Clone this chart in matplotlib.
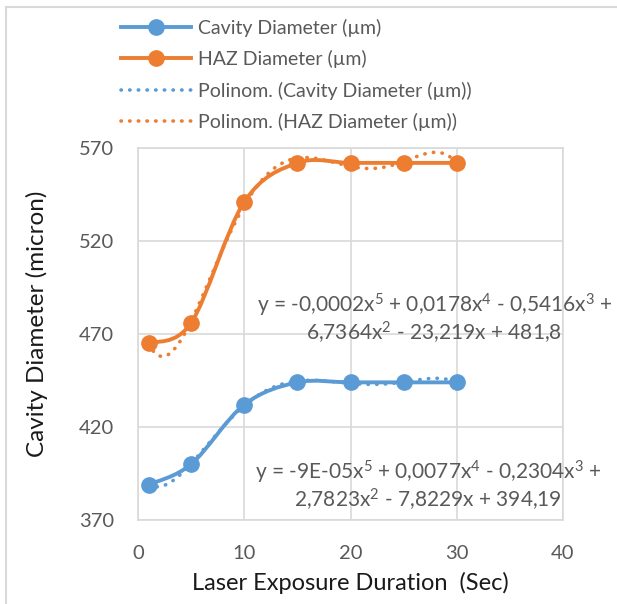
import numpy as np
import matplotlib
matplotlib.use("Agg")
import matplotlib.pyplot as plt
from matplotlib.path import Path
from matplotlib.patches import PathPatch
from matplotlib.lines import Line2D

plt.rcParams['font.family'] = ['Lato', 'DejaVu Sans']
plt.rcParams['mathtext.fontset'] = 'custom'
plt.rcParams['mathtext.rm'] = 'Lato'
plt.rcParams['mathtext.it'] = 'Lato'

# data
exposure = [1, 5, 10, 15, 20, 25, 30]
cavity = [389, 400, 432, 444, 444, 444, 444]
haz = [465, 476, 541, 562, 562, 562, 562]
series_names = ["Cavity Diameter (µm)", "HAZ Diameter (µm)"]
trend_names = ["Polinom. (Cavity Diameter (µm))", "Polinom. (HAZ Diameter (µm))"]
eq_haz = "y = -0,0002x$^{5}$ + 0,0178x$^{4}$ - 0,5416x$^{3}$ +\n6,7364x$^{2}$ - 23,219x + 481,8"
eq_cav = "y = -9E-05x$^{5}$ + 0,0077x$^{4}$ - 0,2304x$^{3}$ +\n2,7823x$^{2}$ - 7,8229x + 394,19"
xticks = [0, 10, 20, 30, 40]
yticks = [370, 420, 470, 520, 570]

blue = '#5B9BD5'
orange = '#ED7D31'
grey_txt = '#595959'
grid_c = '#D9D9D9'
dot = (0, (0.1, 2.3))

fig = plt.figure(figsize=(6.17, 6.04), dpi=100)
ax = fig.add_axes([138/617, 1-520/604, (563-138)/617, (520-148)/604])


def smooth_path(xs, ys):
    xs = np.asarray(xs, float); ys = np.asarray(ys, float)
    n = len(xs)
    verts = [(xs[0], ys[0])]
    codes = [Path.MOVETO]
    for i in range(n - 1):
        i0 = max(i - 1, 0); i3 = min(i + 2, n - 1)
        c1 = (xs[i] + (xs[i+1] - xs[i0]) / 6, ys[i] + (ys[i+1] - ys[i0]) / 6)
        c2 = (xs[i+1] - (xs[i3] - xs[i]) / 6, ys[i+1] - (ys[i3] - ys[i]) / 6)
        verts += [c1, c2, (xs[i+1], ys[i+1])]
        codes += [Path.CURVE4] * 3
    return Path(verts, codes)


for ys, c in [(cavity, blue), (haz, orange)]:
    ax.add_patch(PathPatch(smooth_path(exposure, ys), fill=False, edgecolor=c,
                           lw=2.8, zorder=3, capstyle='round'))
    ax.plot(exposure, ys, 'o', color=c, ms=11, zorder=4)
    coef = np.polyfit(exposure, ys, 5)
    xx = np.linspace(exposure[0], exposure[-1], 400)
    ax.plot(xx, np.polyval(coef, xx), ls=dot, color=c, lw=2.6,
            dash_capstyle='round', zorder=2)

ax.set_xlim(0, 40)
ax.set_ylim(370, 570)
ax.set_xticks(xticks)
ax.set_yticks(yticks)
ax.grid(True, color=grid_c, lw=1.2)
ax.set_axisbelow(True)
for s in ax.spines.values():
    s.set_color(grid_c)
    s.set_linewidth(1.2)
ax.tick_params(length=0, labelsize=14.5, labelcolor=grey_txt)
ax.tick_params(axis='x', pad=18)
ax.tick_params(axis='y', pad=17)
ax.set_xlabel("Laser Exposure Duration  (Sec)", fontsize=17, color='#1a1a1a', va='center')
ax.set_ylabel("Cavity Diameter (micron)", fontsize=17.5, color='#1a1a1a', va='center')
ax.xaxis.set_label_coords(0.5, (520-583)/372)
ax.yaxis.set_label_coords((37-138)/425, (520-324)/372)

ax.text(27.9, 478, eq_haz, ha='center', va='center', fontsize=15,
        color=grey_txt, linespacing=1.05)
ax.text(27.3, 388.3, eq_cav, ha='center', va='center', fontsize=15,
        color=grey_txt, linespacing=1.05)

handles = [
    Line2D([], [], color=blue, lw=2.8, marker='o', ms=11),
    Line2D([], [], color=orange, lw=2.8, marker='o', ms=11),
    Line2D([], [], color=blue, lw=2.6, ls=dot, dash_capstyle='round'),
    Line2D([], [], color=orange, lw=2.6, ls=dot, dash_capstyle='round'),
]
fig.legend(handles, series_names + trend_names, loc='upper left',
           bbox_to_anchor=(103/617, 1-1/604), frameon=False, fontsize=14,
           labelcolor=grey_txt, handlelength=3.6, handletextpad=0.36,
           labelspacing=0.69)

# chart area border (left and top visible)
fig.add_artist(Line2D([6/617, 6/617], [0, 1-7/604], transform=fig.transFigure,
                      color=grid_c, lw=1.5))
fig.add_artist(Line2D([6/617, 1], [1-7/604, 1-7/604], transform=fig.transFigure,
                      color=grid_c, lw=1.5))

fig.savefig("out.png", dpi=100)
